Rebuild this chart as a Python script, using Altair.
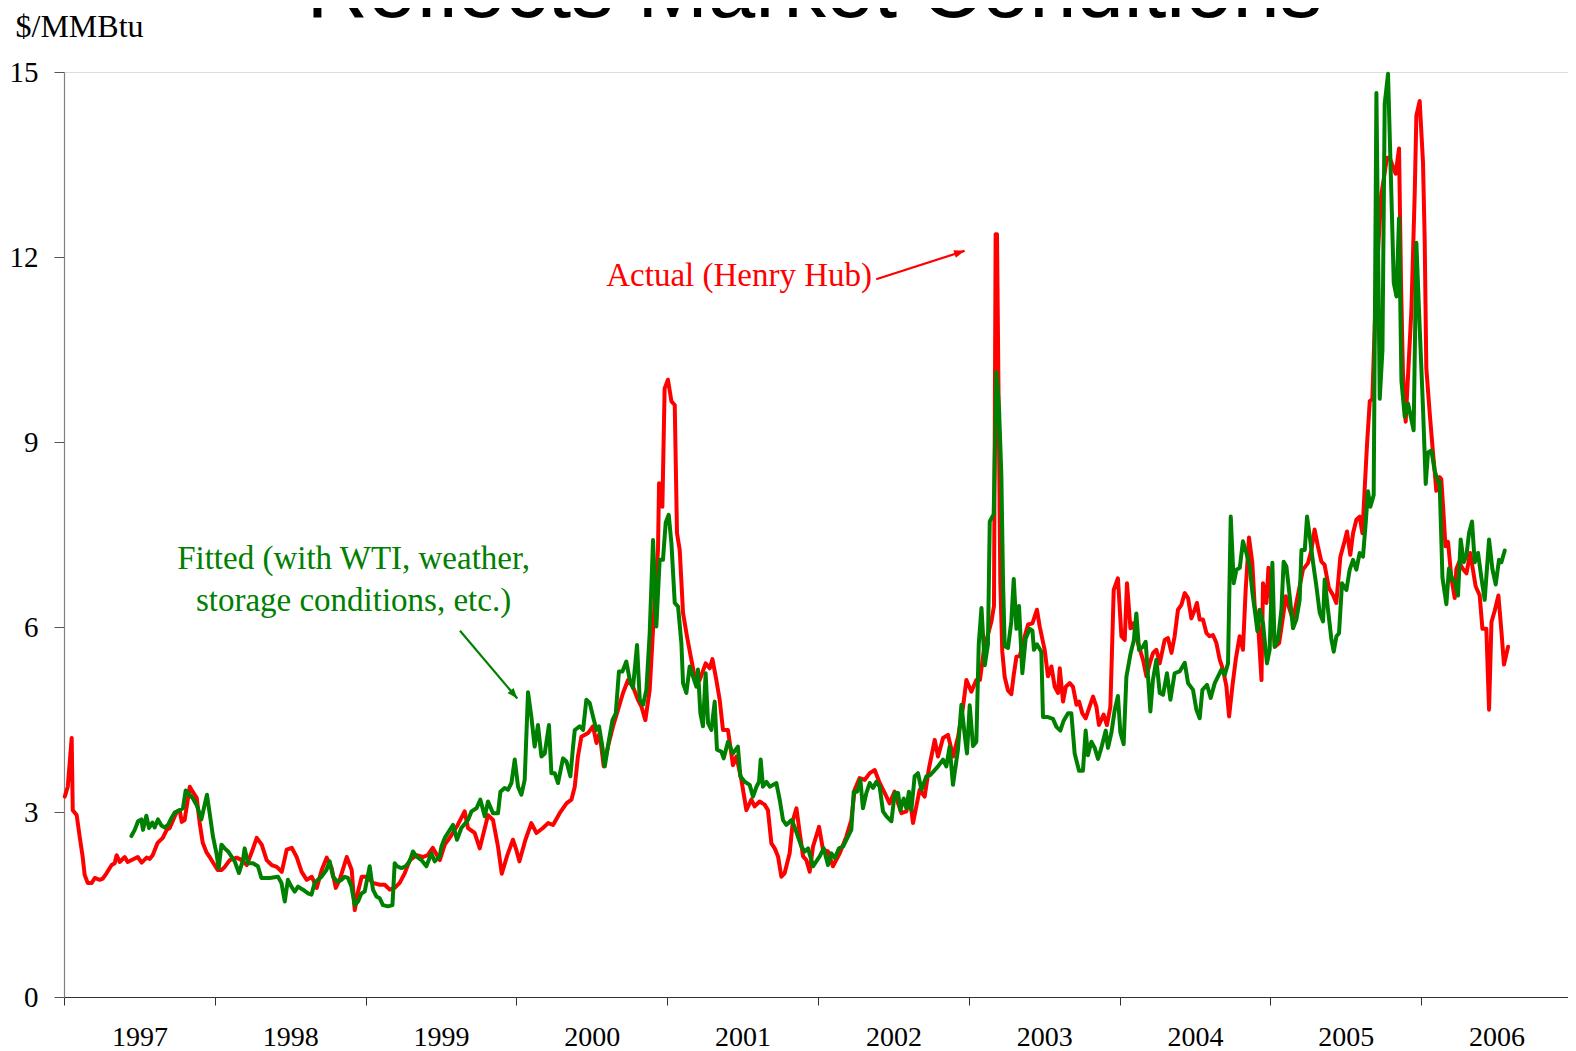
import math
import altair as alt
import pandas as pd

# ---------------- data ----------------
actual_year = [
    1997.005, 1997.025, 1997.051, 1997.058, 1997.084, 1997.104, 1997.124, 1997.137, 1997.157, 1997.184,
    1997.204, 1997.237, 1997.257, 1997.283, 1997.316, 1997.336, 1997.349, 1997.369, 1997.403, 1997.422,
    1997.456, 1997.489, 1997.515, 1997.548, 1997.568, 1997.588, 1997.621, 1997.655, 1997.681, 1997.701,
    1997.747, 1997.767, 1997.781, 1997.800, 1997.834, 1997.853, 1997.880, 1997.900, 1997.920, 1997.946,
    1997.966, 1997.986, 1998.019, 1998.046, 1998.066, 1998.099, 1998.145, 1998.178, 1998.212, 1998.245,
    1998.278, 1998.311, 1998.344, 1998.377, 1998.411, 1998.444, 1998.477, 1998.510, 1998.543, 1998.576,
    1998.610, 1998.643, 1998.676, 1998.709, 1998.742, 1998.775, 1998.802, 1998.828, 1998.875, 1998.908,
    1998.928, 1998.948, 1998.974, 1999.014, 1999.047, 1999.094, 1999.127, 1999.160, 1999.193, 1999.226,
    1999.260, 1999.293, 1999.339, 1999.379, 1999.412, 1999.445, 1999.492, 1999.525, 1999.571, 1999.611,
    1999.657, 1999.679, 1999.723, 1999.757, 1999.812, 1999.845, 1999.878, 1999.903, 1999.940, 1999.977,
    2000.000, 2000.020, 2000.060, 2000.099, 2000.133, 2000.176, 2000.210, 2000.243, 2000.287, 2000.332,
    2000.365, 2000.387, 2000.408, 2000.431, 2000.475, 2000.508, 2000.531, 2000.552, 2000.579, 2000.607,
    2000.641, 2000.674, 2000.707, 2000.740, 2000.773, 2000.806, 2000.829, 2000.855, 2000.884, 2000.906,
    2000.939, 2000.946, 2000.962, 2000.968, 2000.983, 2001.005, 2001.028, 2001.050, 2001.065, 2001.083,
    2001.105, 2001.131, 2001.160, 2001.182, 2001.215, 2001.255, 2001.282, 2001.300, 2001.326, 2001.348,
    2001.370, 2001.403, 2001.436, 2001.459, 2001.492, 2001.525, 2001.558, 2001.580, 2001.613, 2001.646,
    2001.668, 2001.691, 2001.713, 2001.735, 2001.757, 2001.779, 2001.812, 2001.834, 2001.857, 2001.879,
    2001.901, 2001.923, 2001.945, 2001.967, 2002.007, 2002.033, 2002.066, 2002.099, 2002.144, 2002.188,
    2002.221, 2002.243, 2002.276, 2002.309, 2002.343, 2002.376, 2002.409, 2002.442, 2002.475, 2002.508,
    2002.531, 2002.553, 2002.586, 2002.608, 2002.630, 2002.652, 2002.674, 2002.707, 2002.736, 2002.774,
    2002.796, 2002.829, 2002.862, 2002.896, 2002.929, 2002.962, 2002.984, 2003.017, 2003.050, 2003.074,
    2003.100, 2003.150, 2003.167, 2003.178, 2003.187, 2003.209, 2003.222, 2003.238, 2003.260, 2003.282,
    2003.298, 2003.316, 2003.338, 2003.371, 2003.393, 2003.422, 2003.452, 2003.470, 2003.503, 2003.525,
    2003.548, 2003.570, 2003.592, 2003.603, 2003.625, 2003.643, 2003.669, 2003.691, 2003.714, 2003.731,
    2003.753, 2003.775, 2003.801, 2003.824, 2003.846, 2003.863, 2003.894, 2003.916, 2003.939, 2003.961,
    2003.989, 2004.012, 2004.034, 2004.049, 2004.072, 2004.089, 2004.120, 2004.155, 2004.178, 2004.200,
    2004.222, 2004.244, 2004.266, 2004.299, 2004.321, 2004.344, 2004.365, 2004.387, 2004.410, 2004.432,
    2004.454, 2004.476, 2004.498, 2004.513, 2004.531, 2004.553, 2004.576, 2004.597, 2004.619, 2004.642,
    2004.664, 2004.686, 2004.708, 2004.726, 2004.748, 2004.770, 2004.796, 2004.818, 2004.836, 2004.858,
    2004.880, 2004.896, 2004.918, 2004.941, 2004.951, 2004.974, 2004.987, 2005.030, 2005.058, 2005.084,
    2005.102, 2005.128, 2005.150, 2005.194, 2005.216, 2005.250, 2005.272, 2005.293, 2005.315, 2005.338,
    2005.359, 2005.388, 2005.415, 2005.437, 2005.464, 2005.492, 2005.508, 2005.530, 2005.548, 2005.570,
    2005.592, 2005.610, 2005.625, 2005.641, 2005.659, 2005.676, 2005.700, 2005.735, 2005.773, 2005.791,
    2005.813, 2005.831, 2005.853, 2005.866, 2005.879, 2005.897, 2005.935, 2005.957, 2005.968, 2005.990,
    2006.012, 2006.023, 2006.034, 2006.056, 2006.078, 2006.089, 2006.100, 2006.122, 2006.133, 2006.145,
    2006.161, 2006.178, 2006.200, 2006.222, 2006.233, 2006.251, 2006.277, 2006.300, 2006.325, 2006.361,
    2006.388, 2006.406, 2006.432, 2006.450, 2006.466, 2006.487, 2006.512, 2006.532, 2006.549, 2006.576,
]
actual_value = [
    3.25, 3.41, 4.20, 3.03, 2.95, 2.60, 2.27, 1.98, 1.85, 1.85,
    1.93, 1.90, 1.92, 2.01, 2.14, 2.17, 2.30, 2.19, 2.27, 2.19,
    2.23, 2.27, 2.18, 2.26, 2.24, 2.30, 2.50, 2.58, 2.71, 2.74,
    3.00, 3.03, 2.84, 2.87, 3.41, 3.33, 3.23, 2.82, 2.50, 2.34,
    2.27, 2.19, 2.06, 2.06, 2.11, 2.22, 2.26, 2.22, 2.14, 2.35,
    2.58, 2.47, 2.22, 2.14, 2.11, 2.03, 2.39, 2.42, 2.27, 2.03,
    1.90, 1.95, 1.77, 2.06, 2.26, 2.09, 1.77, 1.90, 2.27, 2.06,
    1.41, 1.69, 1.95, 1.95, 1.85, 1.82, 1.82, 1.74, 1.77, 1.85,
    2.01, 2.22, 2.30, 2.27, 2.30, 2.42, 2.22, 2.47, 2.63, 2.79,
    3.01, 2.74, 2.66, 2.41, 2.95, 2.87, 2.44, 2.00, 2.30, 2.55,
    2.38, 2.20, 2.55, 2.82, 2.66, 2.74, 2.82, 2.79, 2.98, 3.14,
    3.20, 3.41, 3.90, 4.22, 4.28, 4.39, 4.12, 4.28, 3.74, 4.06,
    4.39, 4.66, 4.93, 5.14, 5.03, 4.82, 4.71, 4.49, 4.98, 5.95,
    7.25, 8.33, 8.32, 7.95, 9.87, 10.01, 9.66, 9.60, 7.52, 7.25,
    6.23, 5.85, 5.47, 5.20, 5.14, 5.41, 5.33, 5.48, 5.14, 4.82,
    4.33, 4.33, 3.76, 3.90, 3.52, 3.03, 3.20, 3.09, 3.17, 3.12,
    3.03, 2.49, 2.41, 2.28, 1.95, 2.01, 2.33, 2.87, 3.06, 2.66,
    2.28, 2.22, 2.03, 2.44, 2.76, 2.39, 2.36, 2.12, 2.33, 2.60,
    2.87, 3.36, 3.55, 3.52, 3.63, 3.68, 3.47, 3.31, 3.14, 3.33,
    3.14, 2.98, 3.01, 3.25, 2.82, 3.09, 3.36, 3.25, 3.71, 4.17,
    3.90, 4.20, 4.25, 3.90, 4.22, 4.71, 5.14, 4.95, 5.14, 5.14,
    5.63, 6.09, 6.34, 12.37, 12.37, 6.72, 5.60, 5.19, 4.97, 4.91,
    5.22, 5.52, 5.53, 5.85, 6.04, 6.06, 6.28, 6.01, 5.63, 5.20,
    5.36, 5.03, 4.93, 5.33, 4.79, 5.03, 5.09, 5.03, 4.74, 4.79,
    4.60, 4.52, 4.71, 4.87, 4.71, 4.41, 4.58, 4.41, 4.71, 6.60,
    6.79, 5.85, 5.79, 6.71, 5.98, 6.06, 5.75, 5.47, 5.20, 5.41,
    5.58, 5.63, 5.41, 5.79, 5.82, 5.58, 5.85, 6.28, 6.36, 6.55,
    6.47, 6.14, 6.28, 6.39, 6.12, 6.12, 5.90, 5.85, 5.87, 5.74,
    5.47, 5.31, 5.04, 4.55, 5.04, 5.47, 5.85, 5.63, 6.60, 7.45,
    7.04, 6.33, 6.06, 5.14, 6.71, 6.39, 6.96, 5.68, 5.74, 6.17,
    6.50, 6.28, 6.12, 6.66, 6.93, 7.04, 7.25, 7.58, 7.31, 7.06,
    7.01, 6.63, 6.52, 6.39, 7.14, 7.39, 7.55, 7.17, 7.52, 7.74,
    7.79, 7.52, 8.23, 8.97, 9.66, 9.70, 11.50, 13.00, 13.61, 13.61,
    13.46, 13.35, 13.76, 11.60, 10.13, 9.33, 11.14, 13.03, 14.29, 14.53,
    13.53, 12.30, 10.20, 9.48, 8.83, 8.54, 8.21, 8.43, 8.40, 7.96,
    7.31, 7.38, 6.80, 6.47, 6.94, 7.05, 6.94, 6.87, 7.20, 6.66,
    6.51, 5.97, 5.97, 4.66, 6.08, 6.26, 6.51, 5.93, 5.39, 5.68,
]

fitted_year = [
    1997.447, 1997.469, 1997.491, 1997.513, 1997.524, 1997.546, 1997.564, 1997.586, 1997.601, 1997.623,
    1997.646, 1997.668, 1997.690, 1997.712, 1997.734, 1997.767, 1997.789, 1997.807, 1997.822, 1997.855,
    1997.882, 1997.911, 1997.933, 1997.948, 1997.966, 1997.988, 1998.011, 1998.026, 1998.044, 1998.066,
    1998.088, 1998.110, 1998.132, 1998.160, 1998.187, 1998.198, 1998.220, 1998.253, 1998.286, 1998.309,
    1998.364, 1998.419, 1998.442, 1998.464, 1998.485, 1998.508, 1998.530, 1998.552, 1998.585, 1998.618,
    1998.641, 1998.662, 1998.684, 1998.707, 1998.740, 1998.762, 1998.784, 1998.813, 1998.840, 1998.861,
    1998.883, 1998.906, 1998.928, 1998.950, 1998.972, 1998.994, 1999.027, 1999.049, 1999.072, 1999.094,
    1999.115, 1999.148, 1999.178, 1999.193, 1999.208, 1999.237, 1999.266, 1999.292, 1999.314, 1999.337,
    1999.370, 1999.403, 1999.436, 1999.458, 1999.491, 1999.503, 1999.525, 1999.580, 1999.606, 1999.635,
    1999.679, 1999.702, 1999.735, 1999.761, 1999.790, 1999.812, 1999.845, 1999.878, 1999.894, 1999.922,
    1999.944, 1999.967, 1999.989, 2000.011, 2000.033, 2000.055, 2000.077, 2000.099, 2000.121, 2000.143,
    2000.166, 2000.188, 2000.216, 2000.232, 2000.254, 2000.276, 2000.309, 2000.332, 2000.358, 2000.375,
    2000.387, 2000.420, 2000.442, 2000.464, 2000.486, 2000.508, 2000.531, 2000.548, 2000.570, 2000.586,
    2000.614, 2000.637, 2000.659, 2000.680, 2000.703, 2000.729, 2000.752, 2000.773, 2000.800, 2000.818,
    2000.840, 2000.862, 2000.884, 2000.906, 2000.928, 2000.950, 2000.972, 2000.990, 2001.010, 2001.028,
    2001.050, 2001.072, 2001.094, 2001.105, 2001.127, 2001.149, 2001.171, 2001.194, 2001.204, 2001.220,
    2001.237, 2001.255, 2001.271, 2001.293, 2001.315, 2001.330, 2001.359, 2001.375, 2001.403, 2001.436,
    2001.469, 2001.485, 2001.514, 2001.547, 2001.569, 2001.592, 2001.609, 2001.620, 2001.635, 2001.658,
    2001.680, 2001.724, 2001.746, 2001.768, 2001.790, 2001.824, 2001.845, 2001.867, 2001.890, 2001.912,
    2001.934, 2001.967, 2001.989, 2002.011, 2002.038, 2002.066, 2002.089, 2002.111, 2002.139, 2002.166,
    2002.188, 2002.221, 2002.237, 2002.259, 2002.281, 2002.298, 2002.321, 2002.343, 2002.365, 2002.387,
    2002.409, 2002.431, 2002.454, 2002.487, 2002.509, 2002.531, 2002.546, 2002.568, 2002.586, 2002.603,
    2002.619, 2002.641, 2002.663, 2002.686, 2002.719, 2002.745, 2002.774, 2002.796, 2002.829, 2002.851,
    2002.873, 2002.895, 2002.928, 2002.951, 2002.973, 2002.988, 2003.006, 2003.028, 2003.050, 2003.066,
    2003.084, 2003.106, 2003.127, 2003.139, 2003.165, 2003.183, 2003.200, 2003.216, 2003.227, 2003.238,
    2003.260, 2003.282, 2003.298, 2003.316, 2003.333, 2003.355, 2003.377, 2003.404, 2003.422, 2003.432,
    2003.452, 2003.481, 2003.492, 2003.525, 2003.558, 2003.581, 2003.607, 2003.629, 2003.658, 2003.680,
    2003.702, 2003.731, 2003.757, 2003.775, 2003.790, 2003.813, 2003.835, 2003.857, 2003.879, 2003.908,
    2003.923, 2003.946, 2003.968, 2003.989, 2004.005, 2004.027, 2004.045, 2004.072, 2004.094, 2004.111,
    2004.129, 2004.155, 2004.173, 2004.204, 2004.221, 2004.244, 2004.266, 2004.288, 2004.314, 2004.337,
    2004.365, 2004.398, 2004.432, 2004.454, 2004.487, 2004.509, 2004.531, 2004.549, 2004.580, 2004.604,
    2004.631, 2004.675, 2004.697, 2004.719, 2004.737, 2004.757, 2004.775, 2004.797, 2004.818, 2004.841,
    2004.863, 2004.881, 2004.896, 2004.914, 2004.929, 2004.951, 2004.977, 2004.995, 2005.013, 2005.028,
    2005.050, 2005.073, 2005.088, 2005.106, 2005.128, 2005.150, 2005.172, 2005.194, 2005.206, 2005.228,
    2005.243, 2005.261, 2005.283, 2005.305, 2005.327, 2005.349, 2005.360, 2005.382, 2005.405, 2005.420,
    2005.438, 2005.455, 2005.475, 2005.504, 2005.526, 2005.548, 2005.570, 2005.592, 2005.614, 2005.632,
    2005.647, 2005.663, 2005.685, 2005.703, 2005.725, 2005.743, 2005.758, 2005.780, 2005.802, 2005.818,
    2005.836, 2005.853, 2005.869, 2005.891, 2005.913, 2005.950, 2005.968, 2005.990, 2006.012, 2006.030,
    2006.045, 2006.068, 2006.089, 2006.111, 2006.122, 2006.141, 2006.167, 2006.184, 2006.207, 2006.222,
    2006.244, 2006.262, 2006.282, 2006.300, 2006.317, 2006.337, 2006.355, 2006.377, 2006.399, 2006.421,
    2006.450, 2006.472, 2006.494, 2006.516, 2006.532, 2006.554,
]
fitted_value = [
    2.61, 2.71, 2.85, 2.88, 2.71, 2.94, 2.74, 2.83, 2.75, 2.88,
    2.78, 2.75, 2.79, 2.90, 2.99, 3.03, 3.06, 3.35, 3.31, 3.22,
    3.10, 2.88, 3.12, 3.28, 2.98, 2.60, 2.33, 2.09, 2.47, 2.41,
    2.36, 2.28, 2.20, 2.01, 2.22, 2.41, 2.17, 2.17, 2.12, 1.93,
    1.93, 1.95, 1.85, 1.55, 1.90, 1.79, 1.71, 1.79, 1.74, 1.68,
    1.66, 1.85, 1.90, 1.95, 2.06, 2.20, 1.95, 1.87, 1.90, 1.95,
    1.93, 1.79, 1.49, 1.55, 1.68, 1.71, 2.12, 1.74, 1.63, 1.60,
    1.49, 1.47, 1.49, 2.17, 2.12, 2.09, 2.12, 2.20, 2.36, 2.28,
    2.22, 2.12, 2.33, 2.20, 2.28, 2.44, 2.58, 2.79, 2.55, 2.74,
    2.87, 3.01, 3.06, 3.20, 2.93, 3.17, 2.98, 2.98, 3.33, 3.39,
    3.36, 3.47, 3.85, 3.41, 3.28, 3.52, 4.94, 4.55, 4.06, 4.41,
    3.90, 3.95, 4.41, 3.63, 3.63, 3.47, 3.87, 3.82, 3.58, 4.04,
    4.33, 4.39, 4.33, 4.82, 4.77, 4.55, 4.33, 4.39, 4.06, 3.74,
    4.17, 4.49, 4.60, 5.28, 5.28, 5.44, 5.14, 5.01, 5.71, 4.82,
    4.74, 4.98, 5.90, 7.41, 6.01, 7.09, 7.09, 7.69, 7.82, 7.36,
    6.39, 6.33, 5.74, 5.09, 4.93, 5.36, 5.20, 5.03, 5.31, 4.60,
    4.39, 5.25, 4.44, 4.33, 4.79, 4.01, 3.98, 3.87, 4.14, 3.95,
    4.06, 3.58, 3.49, 3.44, 3.25, 3.41, 3.49, 3.85, 3.41, 3.49,
    3.41, 3.47, 3.20, 2.87, 2.79, 2.87, 2.76, 2.60, 2.44, 2.36,
    2.41, 2.12, 2.20, 2.28, 2.41, 2.14, 2.33, 2.25, 2.41, 2.44,
    2.55, 2.71, 3.33, 3.33, 3.52, 3.06, 3.31, 3.47, 3.39, 3.49,
    3.41, 3.01, 2.93, 2.85, 3.31, 3.31, 3.03, 3.22, 3.06, 3.33,
    3.03, 3.58, 3.63, 3.36, 3.58, 3.60, 3.68, 3.74, 3.85, 3.74,
    4.06, 3.44, 4.01, 4.74, 4.25, 3.95, 4.73, 4.07, 4.14, 5.72,
    6.31, 5.38, 5.72, 7.71, 7.83, 10.13, 9.57, 8.45, 6.72, 5.69,
    5.66, 6.09, 6.78, 5.97, 6.34, 5.25, 5.81, 5.97, 5.94, 5.63,
    5.72, 5.60, 4.54, 4.54, 4.51, 4.38, 4.32, 4.48, 4.60, 4.60,
    3.95, 3.67, 3.67, 4.32, 3.92, 4.14, 4.04, 3.86, 4.04, 4.32,
    4.04, 4.29, 4.66, 4.88, 4.29, 4.10, 5.19, 5.56, 5.78, 6.22,
    5.63, 5.68, 5.76, 4.63, 5.14, 5.47, 4.93, 4.90, 5.25, 4.82,
    5.25, 5.28, 5.42, 5.09, 4.98, 4.66, 4.52, 4.98, 5.06, 4.85,
    5.09, 5.31, 5.22, 5.41, 7.79, 6.71, 6.93, 6.96, 7.39, 7.20,
    6.98, 6.55, 6.28, 5.93, 6.28, 6.06, 5.41, 5.63, 7.04, 5.68,
    5.79, 6.28, 7.06, 6.98, 6.50, 5.98, 6.12, 6.44, 7.25, 7.25,
    7.79, 7.47, 7.04, 6.66, 6.23, 6.09, 6.77, 6.28, 5.79, 5.60,
    5.85, 5.90, 6.71, 6.60, 6.93, 7.09, 6.93, 7.20, 7.14, 7.69,
    8.20, 7.95, 8.14, 14.66, 9.70, 10.49, 14.48, 14.97, 13.03, 11.58,
    11.36, 12.63, 9.99, 9.41, 9.62, 9.19, 12.23, 10.85, 9.55, 8.32,
    8.83, 8.86, 8.54, 8.36, 8.36, 6.80, 6.37, 6.95, 6.77, 6.75,
    6.51, 7.42, 7.05, 7.16, 7.52, 7.71, 7.05, 7.20, 6.80, 6.44,
    7.42, 6.94, 6.69, 7.09, 7.05, 7.24,
]

year_ticks = list(range(1997, 2008))
value_ticks = [0, 3, 6, 9, 12, 15]
series_names = ["Actual", "Fitted"]
series_colors = ["#ff0000", "#008000"]

title_text = ["Reflects Market Conditions"]
unit_label = "$/MMBtu"

ann_text = ["Actual (Henry Hub)", "Fitted (with WTI, weather,", "storage conditions, etc.)"]
ann_year = [2001.477, 1998.920, 1998.920]
ann_value = [11.69, 7.11, 6.42]
ann_series = ["Actual", "Fitted", "Fitted"]

arrow_series = ["Actual", "Fitted"]
arrow_year_start = [2002.386, 1999.626]
arrow_value_start = [11.64, 5.94]
arrow_year_end = [2002.972, 2000.006]
arrow_value_end = [12.10, 4.84]

# ---------------- layout constants ----------------
W, H = 1508, 925
X_DOMAIN = [1997, 2007]
Y_DOMAIN = [0, 15]
SERIF = "Liberation Serif"

actual_df = pd.DataFrame({"year": actual_year, "value": actual_value, "series": "Actual"})
fitted_df = pd.DataFrame({"year": fitted_year, "value": fitted_value, "series": "Fitted"})
ann_df = pd.DataFrame({"year": ann_year, "value": ann_value, "text": ann_text, "series": ann_series})
title_df = pd.DataFrame({"t": title_text})

px_per_year = W / (X_DOMAIN[1] - X_DOMAIN[0])
px_per_val = H / (Y_DOMAIN[1] - Y_DOMAIN[0])
angles = []
for ys, vs, ye, ve in zip(arrow_year_start, arrow_value_start, arrow_year_end, arrow_value_end):
    a = math.degrees(math.atan2(-(ve - vs) * px_per_val, (ye - ys) * px_per_year))
    angles.append(a % 360)
arrow_df = pd.DataFrame({
    "series": arrow_series,
    "y0": arrow_year_start, "v0": arrow_value_start,
    "y1": arrow_year_end, "v1": arrow_value_end,
    "angle": angles,
})

xscale = alt.Scale(domain=X_DOMAIN, nice=False, zero=False)
yscale = alt.Scale(domain=Y_DOMAIN, nice=False, zero=True)
cscale = alt.Scale(domain=series_names, range=series_colors)

x_axis = alt.Axis(
    values=year_ticks, format="d",
    labelExpr="datum.value == 2007 ? '' : datum.label",
    labelOffset=px_per_year / 2, labelAlign="center", labelBaseline="alphabetic",
    labelFont=SERIF, labelFontSize=28, labelColor="black", labelPadding=40,
    labelFlush=False, labelOverlap=False,
    tickSize=8, tickColor="#333333", tickWidth=1,
    domainColor="#333333", domainWidth=1.2, grid=False, title=None,
)
y_axis = alt.Axis(
    values=value_ticks, format="d",
    labelFont=SERIF, labelFontSize=29, labelColor="black", labelPadding=16,
    tickSize=10, tickColor="#555555", domainColor="#808080", domainWidth=1.2, grid=False,
    title=unit_label, titleAngle=0, titleX=-49, titleY=-36, titleAlign="left",
    titleBaseline="alphabetic", titleFont=SERIF, titleFontSize=32,
    titleFontWeight="normal", titleColor="black",
)

X = alt.X("year:Q", scale=xscale, axis=x_axis)
Y = alt.Y("value:Q", scale=yscale, axis=y_axis)
C = alt.Color("series:N", scale=cscale, legend=None)

actual_line = alt.Chart(actual_df).mark_line(
    strokeWidth=4, strokeJoin="round", strokeCap="round"
).encode(x=X, y=Y, color=C)

fitted_line = alt.Chart(fitted_df).mark_line(
    strokeWidth=4, strokeJoin="round", strokeCap="round"
).encode(x=alt.X("year:Q", scale=xscale), y=alt.Y("value:Q", scale=yscale), color=C)

arrow_lines = alt.Chart(arrow_df).mark_rule(strokeWidth=2.2).encode(
    x=alt.X("y0:Q", scale=xscale), y=alt.Y("v0:Q", scale=yscale),
    x2="y1:Q", y2="v1:Q", color=C,
)
arrow_heads = alt.Chart(arrow_df).mark_point(
    shape="M0,0L-1,-0.38L-1,0.38Z", filled=True, opacity=1, size=440, strokeWidth=0,
).encode(
    x=alt.X("y1:Q", scale=xscale), y=alt.Y("v1:Q", scale=yscale),
    angle=alt.Angle("angle:Q", scale=None), color=C,
)

labels = alt.Chart(ann_df).mark_text(
    font=SERIF, fontSize=33, align="center", baseline="middle"
).encode(
    x=alt.X("year:Q", scale=xscale), y=alt.Y("value:Q", scale=yscale),
    text="text:N", color=C,
)

# large slide title, mostly above the visible page edge as in the reference
title_mark = alt.Chart(title_df).mark_text(
    font="Liberation Sans", fontSize=85, align="center", baseline="alphabetic", color="black"
).encode(x=alt.value(750.4), y=alt.value(-55), text="t:N")

chart = alt.layer(actual_line, fitted_line, arrow_lines, arrow_heads, labels, title_mark).properties(
    width=W, height=H,
    padding={"left": 56, "top": 64, "right": -4, "bottom": 54},
    autosize=alt.AutoSizeParams(type="none"),
).configure_view(stroke=None).configure(background="white")

chart.save("out.html", embed_options={"renderer": "svg", "actions": False})
